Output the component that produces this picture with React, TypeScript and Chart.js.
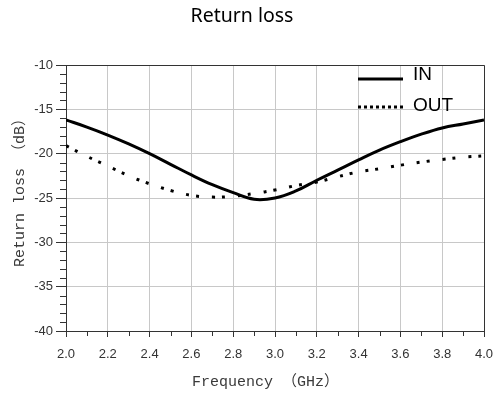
import React, { useEffect, useRef } from "react";
import { Chart, registerables } from "chart.js";

Chart.register(...registerables);

const chartTitle = "Return loss";
const xTitle = "Frequency （GHz）";
const yTitle = "Return loss （dB）";
const seriesNames = ["IN", "OUT"];

const freq = [2.0, 2.1, 2.2, 2.3, 2.4, 2.5, 2.6, 2.7, 2.8, 2.9, 3.0, 3.1, 3.2, 3.3, 3.4, 3.5, 3.6, 3.7, 3.8, 3.9, 4.0];
const inLoss = [-16.2, -17.0, -17.9, -18.9, -20.0, -21.2, -22.4, -23.5, -24.4, -25.15, -25.0, -24.2, -23.0, -21.85, -20.7, -19.6, -18.65, -17.8, -17.1, -16.65, -16.2];
const outLoss = [-19.1, -20.3, -21.4, -22.5, -23.4, -24.15, -24.7, -24.9, -24.8, -24.5, -24.1, -23.6, -23.2, -22.6, -22.05, -21.7, -21.3, -20.95, -20.65, -20.4, -20.25];

const xMin = 2.0;
const xMax = 4.0;
const xMajorStep = 0.2;
const xMinorStep = 0.1;
const yMin = -40;
const yMax = -10;
const yMajorStep = 5;
const yMinorStep = 1;

const frameColor = "#333333";
const gridColor = "#c8c8c8";
const axisTitleFont = "15px 'Liberation Mono', 'Noto Sans CJK SC', monospace";

const framePlugin = {
  id: "frameAndMinor",
  afterDatasetsDraw(chart: any) {
    const { ctx, chartArea, scales } = chart;
    const { left, right, top, bottom } = chartArea;
    ctx.save();
    ctx.strokeStyle = frameColor;
    ctx.lineWidth = 1;
    ctx.beginPath();
    ctx.moveTo(Math.round(left) + 0.5, Math.round(top) + 0.5);
    ctx.lineTo(Math.round(right) + 0.5, Math.round(top) + 0.5);
    ctx.lineTo(Math.round(right) + 0.5, Math.round(bottom) + 0.5);
    ctx.stroke();
    const xs = scales.x;
    const ys = scales.y;
    ctx.beginPath();
    const nX = Math.round((xMax - xMin) / xMinorStep);
    for (let i = 0; i <= nX; i++) {
      if (i % 2 === 0) continue;
      const v = xMin + i * xMinorStep;
      const px = Math.round(xs.getPixelForValue(v)) + 0.5;
      ctx.moveTo(px, bottom);
      ctx.lineTo(px, bottom + 5);
    }
    const nY = Math.round((yMax - yMin) / yMinorStep);
    for (let i = 0; i <= nY; i++) {
      if (i % 5 === 0) continue;
      const v = yMin + i * yMinorStep;
      const py = Math.round(ys.getPixelForValue(v)) + 0.5;
      ctx.moveTo(left - 6, py);
      ctx.lineTo(left, py);
    }
    ctx.stroke();
    ctx.restore();
  },
  afterDraw(chart: any) {
    const { ctx, chartArea } = chart;
    const { left, right, top, bottom } = chartArea;
    ctx.save();
    // legend
    ctx.strokeStyle = "#000";
    ctx.lineWidth = 3;
    ctx.beginPath();
    ctx.moveTo(right - 126, top + 14);
    ctx.lineTo(right - 81, top + 14);
    ctx.stroke();
    ctx.setLineDash([3, 3]);
    ctx.beginPath();
    ctx.moveTo(right - 126, top + 42);
    ctx.lineTo(right - 81, top + 42);
    ctx.stroke();
    ctx.setLineDash([]);
    ctx.fillStyle = "#000";
    ctx.font = "19px 'Liberation Sans', Arial, sans-serif";
    ctx.textBaseline = "middle";
    ctx.textAlign = "left";
    ctx.fillText(seriesNames[0], right - 71, top + 10);
    ctx.fillText(seriesNames[1], right - 71, top + 41);
    // axis titles
    ctx.fillStyle = "#3a3a3a";
    ctx.font = axisTitleFont;
    ctx.textAlign = "left";
    ctx.textBaseline = "middle";
    ctx.fillText(xTitle, left + 126, bottom + 51);
    ctx.translate(20, bottom - 64);
    ctx.rotate(-Math.PI / 2);
    ctx.fillText(yTitle, 0, 0);
    ctx.restore();
  },
};

export default function App() {
  const ref = useRef<HTMLCanvasElement | null>(null);
  useEffect(() => {
    if (!ref.current) return;
    const chart = new Chart(ref.current, {
      type: "line",
      data: {
        datasets: [
          {
            label: seriesNames[0],
            data: freq.map((f, i) => ({ x: f, y: inLoss[i] })),
            borderColor: "#000",
            borderWidth: 3,
            pointRadius: 0,
            tension: 0.4,
            fill: false,
          },
          {
            label: seriesNames[1],
            data: freq.map((f, i) => ({ x: f, y: outLoss[i] })),
            borderColor: "#000",
            borderWidth: 3,
            borderDash: [3, 7, 3, 13],
            borderCapStyle: "butt",
            pointRadius: 0,
            tension: 0.4,
            fill: false,
          },
        ],
      },
      options: {
        responsive: false,
        animation: false,
        devicePixelRatio: 1,
        layout: { padding: { left: 0, right: 11, top: 0, bottom: 0 } },
        plugins: {
          legend: { display: false },
          tooltip: { enabled: false },
          title: {
            display: true,
            text: chartTitle,
            color: "#000",
            font: { family: "'Noto Sans', sans-serif", size: 19.5, weight: "normal" },
            padding: { top: 4.3, bottom: 37.3 },
          },
        },
        scales: {
          x: {
            type: "linear",
            min: xMin,
            max: xMax,
            afterFit: (s: any) => {
              s.height = 67;
              s.paddingLeft = 0;
              s.paddingRight = 0;
            },
            ticks: {
              stepSize: xMajorStep,
              autoSkip: false,
              maxRotation: 0,
              padding: 10,
              color: "#333",
              font: { family: "'Liberation Sans', Arial, sans-serif", size: 13 },
              callback: (v: any) => Number(v).toFixed(1),
            },
            grid: { color: gridColor, tickColor: frameColor, tickLength: 6, lineWidth: 1 },
            border: { display: true, color: frameColor, width: 1 },
            title: { display: false },
          },
          y: {
            type: "linear",
            min: yMin,
            max: yMax,
            afterFit: (s: any) => {
              s.width = 66;
            },
            ticks: {
              stepSize: yMajorStep,
              autoSkip: false,
              padding: 3,
              color: "#333",
              font: { family: "'Liberation Sans', Arial, sans-serif", size: 13 },
            },
            grid: { color: gridColor, tickColor: frameColor, tickLength: 10, lineWidth: 1 },
            border: { display: true, color: frameColor, width: 1 },
            title: { display: false },
          },
        },
      },
      plugins: [framePlugin],
    } as any);
    return () => chart.destroy();
  }, []);
  return (
    <div style={{ position: "absolute", left: 0, top: 0, width: 495, height: 398, background: "#fff" }}>
      <canvas ref={ref} width={495} height={398} />
    </div>
  );
}
